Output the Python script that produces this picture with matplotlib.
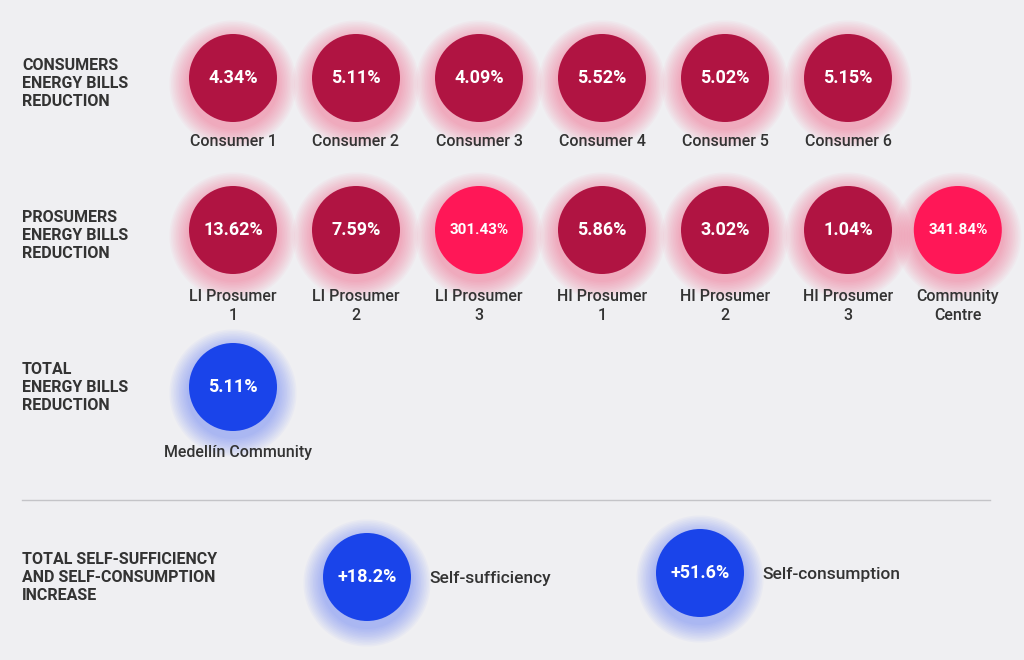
import matplotlib.pyplot as plt
from matplotlib.patches import Circle

plt.rcParams['font.family'] = ['Roboto', 'DejaVu Sans']

consumer_labels = ['Consumer 1', 'Consumer 2', 'Consumer 3', 'Consumer 4', 'Consumer 5', 'Consumer 6']
consumer_values = [4.34, 5.11, 4.09, 5.52, 5.02, 5.15]

prosumer_labels = ['LI Prosumer\n1', 'LI Prosumer\n2', 'LI Prosumer\n3', 'HI Prosumer\n1',
                   'HI Prosumer\n2', 'HI Prosumer\n3', 'Community\nCentre']
prosumer_values = [13.62, 7.59, 301.43, 5.86, 3.02, 1.04, 341.84]

total_label = 'Medellín Community'
total_value = 5.11

self_labels = ['Self-sufficiency', 'Self-consumption']
self_values = [18.2, 51.6]

BG = '#efeff2'
DARK = '#b01442'
PINK = '#ff1757'
BLUE = '#1a44ea'
TXT = '#333333'

fig = plt.figure(figsize=(10.24, 6.6), dpi=100, facecolor=BG)
ax = fig.add_axes([0, 0, 1, 1])
ax.set_xlim(0, 1024)
ax.set_ylim(660, 0)
ax.set_axis_off()
ax.set_facecolor(BG)


def bubble(x, y, text, color, glow, fs=13):
    # soft glow beneath
    for i in range(12):
        r = 46 + i * 1.6
        ax.add_patch(Circle((x, y + 6), r, color=glow, alpha=0.035, lw=0, zorder=1))
    ax.add_patch(Circle((x, y), 44, color=color, lw=0, zorder=2))
    ax.text(x, y, text, color='white', ha='center', va='center', fontsize=fs,
            fontweight='bold', zorder=3)


def section(y, text):
    ax.text(22, y, text, ha='left', va='center', fontsize=11.5, fontweight='bold',
            color=TXT, linespacing=1.25)


x0, dx = 233, 123

section(83, 'CONSUMERS\nENERGY BILLS\nREDUCTION')
for i, (lab, v) in enumerate(zip(consumer_labels, consumer_values)):
    x = x0 + i * dx
    bubble(x, 78, f'{v:.2f}%', DARK, '#ff3b6b')
    ax.text(x, 142, lab, ha='center', va='center', fontsize=11.5, fontweight='medium', color=TXT)

section(236, 'PROSUMERS\nENERGY BILLS\nREDUCTION')
for i, (lab, v) in enumerate(zip(prosumer_labels, prosumer_values)):
    x = x0 + i * (dx if i < 6 else 120.8)
    col = PINK if v > 100 else DARK
    bubble(x, 230, f'{v:.2f}%', col, '#ff3b6b', fs=11 if v > 100 else 13)
    ax.text(x, 306, lab, ha='center', va='center', fontsize=11.5, fontweight='medium',
            color=TXT, linespacing=1.35)

section(388, 'TOTAL\nENERGY BILLS\nREDUCTION')
bubble(233, 387, f'{total_value:.2f}%', BLUE, '#3a5cff')
ax.text(238, 452, total_label, ha='center', va='center', fontsize=11.5, fontweight='medium', color=TXT)

ax.plot([22, 990], [500, 500], color='#c4c4c8', lw=1)

section(577, 'TOTAL SELF-SUFFICIENCY\nAND SELF-CONSUMPTION\nINCREASE')
for (x, y), lab, v in zip([(367, 577), (700, 573)], self_labels, self_values):
    bubble(x, y, f'+{v:.1f}%', BLUE, '#3a5cff')
    ax.text(x + 62, y + 2, lab, ha='left', va='center', fontsize=12.5, fontweight='medium', color=TXT)

fig.savefig('out.png', dpi=100, facecolor=BG)
